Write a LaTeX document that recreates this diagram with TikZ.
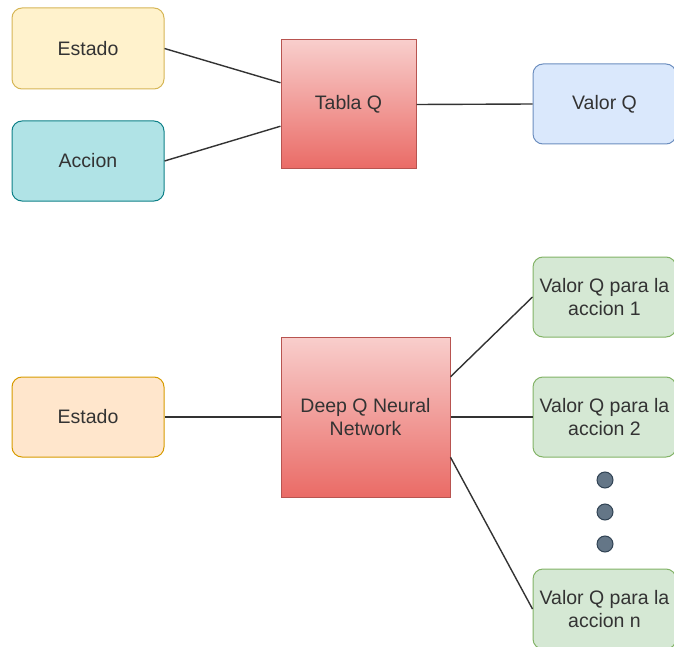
\documentclass[tikz,border=0pt]{standalone}
\usepackage{fontspec}
\setmainfont{Liberation Sans}
\usepackage{xcolor}
\usepackage{tikz}
\usetikzlibrary{calc}
\definecolor{yellowfill}{HTML}{FFF2CC}
\definecolor{yellowline}{HTML}{D6B656}
\definecolor{tealfill}{HTML}{B0E3E6}
\definecolor{tealline}{HTML}{0E8088}
\definecolor{bluefill}{HTML}{DAE8FC}
\definecolor{blueline}{HTML}{6C8EBF}
\definecolor{orangefill}{HTML}{FFE6CC}
\definecolor{orangeline}{HTML}{D79B00}
\definecolor{greenfill}{HTML}{D5E8D4}
\definecolor{greenline}{HTML}{82B366}
\definecolor{redtop}{HTML}{F8CECC}
\definecolor{redbottom}{HTML}{EA6B66}
\definecolor{redline}{HTML}{B85450}
\definecolor{dotfill}{HTML}{647687}
\definecolor{dotline}{HTML}{314354}
\definecolor{textgray}{HTML}{333333}
\definecolor{linkgray}{HTML}{333333}

\begin{document}
\begin{tikzpicture}[x=1pt, y=-1pt,
    box/.style={rounded corners=10pt, line width=1pt, inner sep=0, align=center,
      text=textgray, font=\fontsize{19.5}{23}\selectfont},
    redbox/.style={box, sharp corners, draw=redline, top color=redtop, bottom color=redbottom},
    link/.style={draw=linkgray, line width=1.4pt}]
    \useasboundingbox (0,0) rectangle (674,647);
    \clip (0,0) rectangle (674,647);
    % tabla Q
    \node[box, draw=yellowline, fill=yellowfill, minimum width=152pt, minimum height=81pt] (estado) at (88,48.5) {Estado};
    \node[box, draw=tealline, fill=tealfill, minimum width=152pt, minimum height=80pt] (accion) at (88,161) {Accion};
    \node[redbox, minimum width=135pt, minimum height=129pt] (tabla) at (348.5,104.5) {Tabla Q};
    \node[box, draw=blueline, fill=bluefill, minimum width=143pt, minimum height=80pt] (valor) at (604.5,104) {Valor Q};
    \draw[link] (estado.east) -- ($(tabla.north west)!0.333!(tabla.south west)$);
    \draw[link] (accion.east) -- ($(tabla.north west)!0.667!(tabla.south west)$);
    \draw[link] (tabla.east) -- (valor.west);
    % deep Q network
    \node[box, draw=orangeline, fill=orangefill, minimum width=152pt, minimum height=80pt] (estadob) at (88,417) {Estado};
    \node[redbox, minimum width=169pt, minimum height=160pt] (dqn) at (365.5,417) {Deep Q Neural\\Network};
    \node[box, draw=greenline, fill=greenfill, minimum width=143pt, minimum height=80pt] (vq1) at (604.5,297) {Valor Q para la\\accion 1};
    \node[box, draw=greenline, fill=greenfill, minimum width=143pt, minimum height=80pt] (vq2) at (604.5,417) {Valor Q para la\\accion 2};
    \node[box, draw=greenline, fill=greenfill, minimum width=143pt, minimum height=80pt] (vqn) at (604.5,609) {Valor Q para la\\accion n};
    \foreach \y [count=\i] in {480,512,544}
      \node[circle, draw=dotline, fill=dotfill, line width=1pt, minimum size=16pt, inner sep=0] (dot\i) at (605,\y) {};
    \draw[link] (estadob.east) -- (dqn.west);
    \draw[link] ($(dqn.north east)!0.25!(dqn.south east)$) -- (vq1.west);
    \draw[link] (dqn.east) -- (vq2.west);
    \draw[link] ($(dqn.north east)!0.75!(dqn.south east)$) -- (vqn.west);
\end{tikzpicture}
\end{document}
